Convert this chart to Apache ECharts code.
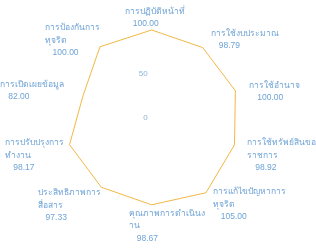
<!DOCTYPE html>
<html>
<head>
<meta charset="utf-8">
<script src="https://cdn.jsdelivr.net/npm/echarts@6/dist/echarts.min.js"></script>
<style>
  html, body { margin: 0; padding: 0; background: #fff; }
  #main { width: 316px; height: 251px; }
</style>
</head>
<body>
<div id="main"></div>
<script>
    // indicator names in display order (clockwise from the top)
    var names = [
        'การปฏิบัติหน้าที่',
        'การใช้งบประมาณ',
        'การใช้อำนาจ',
        'การใช้ทรัพย์สินของ\nราชการ',
        'การแก้ไขปัญหาการ\nทุจริต',
        'คุณภาพการดำเนินง\nาน',
        'ประสิทธิภาพการ\nสื่อสาร',
        'การปรับปรุงการ\nทำงาน',
        'การเปิดเผยข้อมูล',
        'การป้องกันการ\nทุจริต'
    ];
    var scores = [100.00, 98.79, 100.00, 98.92, 105.00, 98.67, 97.33, 98.17, 82.00, 100.00];
    var maxScore = 100;

    // small nudges [dx, dy] for each name label, same order as names
    var labelShift = [
        [3, 4], [5, -4], [10, 2], [8, 9], [7, 12],
        [15, -3], [3, 13], [0, 9], [0, 1], [2, -3]
    ];

    // echarts places radar indicators counter-clockwise, so keep the first one and reverse the rest
    var order = [0];
    for (var i = names.length - 1; i > 0; i--) {
        order.push(i);
    }

    var indicator = order.map(function (i, k) {
        var dx = labelShift[i][0], dy = labelShift[i][1];
        var item = {
            name: names[i],
            max: maxScore,
            min: 0,
            nameTextStyle: { padding: [dy, -dx, -dy, dx] }
        };
        if (k === 0) {
            item.axisLabel = { show: true, showMaxLabel: false, color: '#8fb4d6', fontSize: 8, margin: 4 };
        }
        return item;
    });
    var values = order.map(function (i) { return scores[i]; });
    var scoreByName = {};
    names.forEach(function (n, i) { scoreByName[n] = scores[i]; });

    var myChart = echarts.init(document.getElementById('main'));

    var option = {
        backgroundColor: '#fff',
        radar: {
            center: ['48%', '47%'],
            radius: 88,
            startAngle: 90,
            splitNumber: 2,
            indicator: indicator,
            axisName: {
                color: '#6fa3d6',
                fontSize: 8.5,
                lineHeight: 12.5,
                fontFamily: 'sans-serif',
                formatter: function (name) {
                    return '{n|' + name + '}\n{v|' + scoreByName[name].toFixed(2) + '}';
                },
                rich: {
                    n: { align: 'left', fontSize: 8.5, lineHeight: 12.5, color: '#6fa3d6' },
                    v: { align: 'left', fontSize: 8.5, lineHeight: 12.5, color: '#6fa3d6', padding: [0, 0, 0, 8] }
                }
            },
            nameGap: 4,
            axisLine: { show: false },
            splitLine: { show: false },
            splitArea: { show: false },
            axisTick: { show: false }
        },
        series: [
            {
                type: 'radar',
                symbol: 'none',
                lineStyle: { color: '#f2b845', width: 1 },
                data: [
                    { value: values, name: 'score' }
                ]
            }
        ]
    };

    myChart.setOption(option);
</script>
</body>
</html>
